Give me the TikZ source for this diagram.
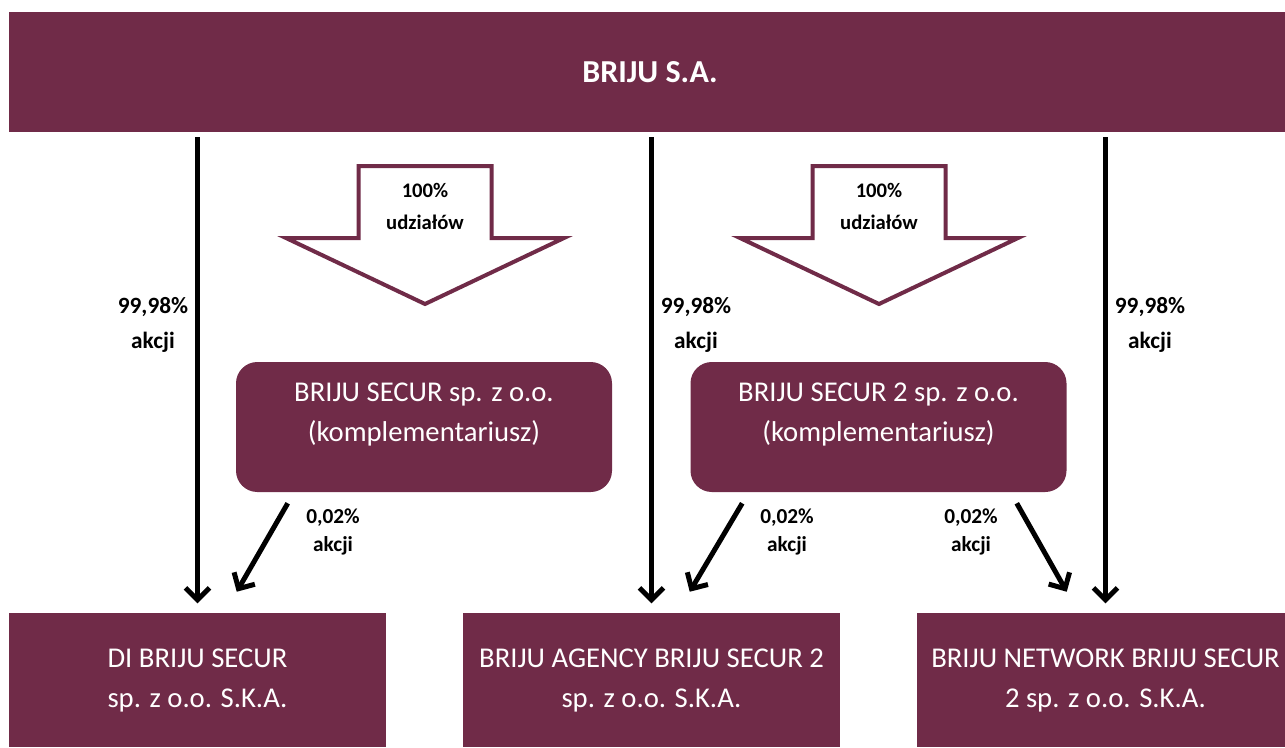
\documentclass[tikz,border=0pt]{standalone}
\usepackage{fontspec}
\setmainfont{Carlito}
\usepackage{tikz}
\usetikzlibrary{arrows.meta,calc,positioning}
\definecolor{briju}{RGB}{112,43,72}
\tikzstyle{firm}=[fill=briju, text=white, inner sep=0pt, align=center, font=\fontsize{21.5}{30}\selectfont]
\tikzstyle{spk}=[firm, minimum width=282.75pt, minimum height=100.5pt]
\tikzstyle{komp}=[firm, rounded corners=16pt, minimum width=282pt, minimum height=97.5pt]
\tikzstyle{own}=[line width=3.75pt, -{Straight Barb[length=9pt,width=18pt]}]
\tikzstyle{pct}=[font=\bfseries\fontsize{17.5}{26}\selectfont, align=center]
\tikzstyle{pctsmall}=[font=\bfseries\fontsize{16}{21}\selectfont, align=center]
\newcommand{\upText}[1]{\raisebox{10pt}[\height][\depth]{\begin{tabular}{@{}c@{}}#1\end{tabular}}}
\newcommand{\shareArrow}[2]{
	\draw[briju, line width=3pt, fill=white] (#2-66.5,166) -- (#2+66.5,166) -- (#2+66.5,238) -- (#2+139,238) -- (#2,304) -- (#2-139,238) -- (#2-66.5,238) -- cycle;
	\node[pctsmall, font=\bfseries\fontsize{15.5}{24}\selectfont] (#1) at (#2,206) {100\%\\udziałów};
}
\begin{document}
\begin{tikzpicture}[x=0.75pt,y=-0.75pt]
	\useasboundingbox (0,0) rectangle (1285,747);
	\clip (0,0) rectangle (1285,747);
	\node[firm, minimum width=961.5pt, minimum height=90pt, font=\bfseries\fontsize{24}{30}\selectfont] (briju) at (650,72) {BRIJU S.A.};
	\shareArrow{udz1}{425}
	\shareArrow{udz2}{879}
	\node[komp] (secur1) at (424,427) {\upText{BRIJU SECUR sp. z o.o.\\(komplementariusz)}};
	\node[komp] (secur2) at (878.5,427) {\upText{BRIJU SECUR 2 sp. z o.o.\\(komplementariusz)}};
	\node[spk] (di) at (197.5,680) {DI BRIJU SECUR\\sp. z o.o. S.K.A.};
	\node[spk] (agency) at (651.5,680) {BRIJU AGENCY BRIJU SECUR 2\\sp. z o.o. S.K.A.};
	\node[spk] (network) at (1105.5,680) {BRIJU NETWORK BRIJU SECUR\\2 sp. z o.o. S.K.A.};
	% 99,98% akcji
	\draw[own, shorten <=3.75pt, shorten >=7pt] (briju.south -| di.north) -- (di.north);
	\draw[own, shorten <=3.75pt, shorten >=7pt] (briju.south -| agency.north) -- (agency.north);
	\draw[own, shorten <=3.75pt, shorten >=7pt] (briju.south -| network.north) -- (network.north);
	\node[pct] (p1) at (153,325) {99,98\%\\akcji};
	\node[pct] (p2) at (696,325) {99,98\%\\akcji};
	\node[pct] (p3) at (1150,325) {99,98\%\\akcji};
	% 0,02% akcji
	\draw[own] ($(secur1.south west)+(52,11)$) -- ($(di.north west)+(228,-21)$);
	\draw[own] ($(secur2.south west)+(52,11)$) -- ($(agency.north west)+(227,-21)$);
	\draw[own] ($(secur2.south east)+(-50,11)$) -- ($(network.north west)+(150,-21)$);
	\node[pctsmall] (k1) at (333,532) {0,02\%\\akcji};
	\node[pctsmall] (k2) at (787,532) {0,02\%\\akcji};
	\node[pctsmall] (k3) at (971,532) {0,02\%\\akcji};
\end{tikzpicture}
\end{document}
